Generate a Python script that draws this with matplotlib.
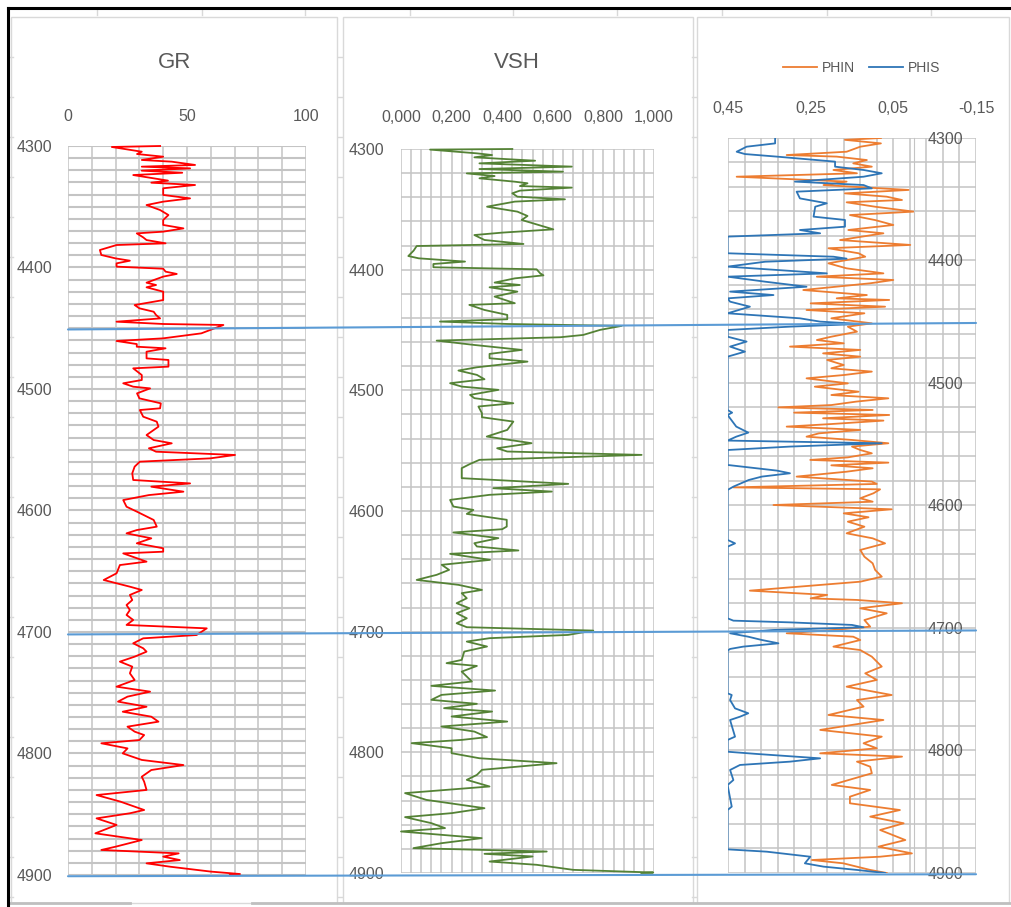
import numpy as np
import matplotlib.pyplot as plt
from matplotlib.lines import Line2D
from matplotlib.patches import ConnectionPatch, Rectangle
from matplotlib.ticker import FuncFormatter

# --- log data (depth in m) ---
gr_depth = [4300.0, 4300.8, 4304.7, 4306.6, 4308.8, 4311.5, 4312.9, 4315.6, 4317.0, 4318.4,
            4320.3, 4322.0, 4323.9, 4326.6, 4328.5, 4330.2, 4332.1, 4334.8, 4340.3, 4343.1,
            4345.8, 4348.6, 4352.7, 4356.8, 4360.9, 4365.0, 4367.8, 4370.5, 4371.9, 4375.2,
            4377.4, 4380.1, 4381.5, 4385.6, 4389.7, 4392.5, 4394.4, 4396.6, 4399.3, 4401.0,
            4403.4, 4405.3, 4407.5, 4412.5, 4414.4, 4416.3, 4419.9, 4426.8, 4430.9, 4433.6,
            4436.4, 4439.1, 4441.9, 4444.6, 4446.5, 4447.3, 4451.5, 4454.2, 4458.3, 4460.5,
            4463.0, 4465.2, 4466.5, 4469.3, 4474.8, 4476.1, 4481.6, 4483.0, 4488.5, 4492.6,
            4495.3, 4498.1, 4499.5, 4503.6, 4507.7, 4511.8, 4515.9, 4517.3, 4522.8, 4526.9,
            4531.0, 4535.1, 4537.9, 4542.0, 4544.7, 4548.8, 4551.6, 4554.3, 4557.1, 4559.8,
            4563.9, 4569.4, 4574.9, 4577.7, 4580.4, 4584.5, 4587.3, 4591.4, 4596.9, 4601.0,
            4607.8, 4613.3, 4616.1, 4618.8, 4622.9, 4627.0, 4631.1, 4633.9, 4635.3, 4642.1,
            4644.9, 4651.7, 4657.2, 4662.7, 4665.4, 4669.5, 4673.7, 4677.8, 4681.9, 4686.0,
            4690.1, 4694.2, 4697.0, 4702.5, 4705.2, 4709.3, 4713.4, 4716.2, 4720.3, 4724.4,
            4728.5, 4734.0, 4739.5, 4745.0, 4749.1, 4753.2, 4757.3, 4761.5, 4765.6, 4769.7,
            4773.8, 4777.9, 4782.0, 4784.8, 4788.9, 4791.6, 4795.8, 4799.9, 4805.3, 4809.5,
            4813.6, 4819.1, 4823.2, 4830.0, 4834.2, 4839.6, 4846.5, 4849.2, 4853.4, 4858.8,
            4865.7, 4871.2, 4876.7, 4879.4, 4882.2, 4884.9, 4887.7, 4890.4, 4893.2, 4897.2,
            4899.2, 4900.0]
gr_api = [38.7, 18.4, 31, 29, 40, 31, 43.6, 53.4, 31, 51.3,
          31, 48, 27.4, 36, 42, 35, 53.4, 40, 40, 51.3,
          40, 33, 38.7, 42.2, 40, 40, 48.5, 40, 28.9, 31.6,
          33, 41, 20.4, 13.4, 14, 20, 26, 20.4, 20.4, 40,
          41, 45.7, 40, 33, 37, 33, 40, 40, 28, 30,
          36, 37, 38.7, 20.4, 40, 65.3, 59.7, 56, 40, 20.4,
          28.9, 28.9, 41, 33, 33, 42.2, 42.2, 27.4, 31, 31,
          23.2, 27.4, 34.5, 29, 30, 39, 38.7, 30.2, 31.6, 37.3,
          38, 35, 33, 36, 43.6, 34, 37, 70.2, 59.7, 30.2,
          28, 27, 27.4, 51.3, 35, 48.5, 34, 23.2, 24.6, 29,
          36, 37.3, 28.9, 24.6, 35, 28.9, 40, 40, 23.2, 33,
          21.8, 20.4, 15, 26, 31, 26, 27, 24.6, 26, 24.6,
          27.4, 24.6, 58.3, 54, 31.6, 27.4, 31.6, 33, 28, 21.8,
          27, 26, 28, 20.4, 34.5, 25, 21, 33, 23, 35,
          38, 25, 28, 32, 30, 14, 25, 23, 31, 48.5,
          35, 31, 32, 33, 12, 22, 32, 26, 12, 20.4,
          11.5, 31, 20, 14, 46.5, 40, 47, 33, 43, 60,
          72.3, 68]

vsh_depth = [4300.0, 4300.5, 4303.6, 4305.0, 4306.9, 4309.7, 4311.9, 4314.6, 4316.6, 4318.8,
             4320.2, 4322.4, 4324.3, 4327.1, 4328.4, 4330.7, 4332.0, 4334.5, 4336.7, 4339.5,
             4341.7, 4343.6, 4347.8, 4351.9, 4355.5, 4358.8, 4366.6, 4369.3, 4371.3, 4375.4,
             4378.7, 4380.4, 4384.2, 4388.7, 4390.6, 4393.3, 4395.3, 4398.0, 4399.7, 4403.0,
             4404.7, 4407.2, 4410.7, 4412.7, 4414.6, 4418.2, 4422.3, 4427.8, 4429.2, 4433.4,
             4437.5, 4441.1, 4443.0, 4445.0, 4446.6, 4449.9, 4454.1, 4456.0, 4458.8, 4462.4,
             4466.5, 4469.8, 4473.4, 4476.2, 4480.9, 4483.6, 4487.2, 4490.8, 4494.1, 4496.9,
             4499.6, 4503.8, 4506.5, 4510.7, 4513.4, 4519.0, 4522.3, 4525.9, 4530.0, 4532.8,
             4538.3, 4543.8, 4548.0, 4550.7, 4553.5, 4557.6, 4561.0, 4564.5, 4572.8, 4577.5,
             4581.1, 4583.9, 4586.6, 4590.8, 4596.3, 4599.1, 4602.4, 4607.3, 4612.9, 4615.1,
             4617.8, 4622.5, 4626.7, 4629.4, 4632.7, 4635.5, 4640.5, 4644.6, 4648.8, 4652.9,
             4657.1, 4661.2, 4665.4, 4668.1, 4672.3, 4676.4, 4680.6, 4684.7, 4688.9, 4693.0,
             4696.3, 4699.1, 4702.7, 4705.4, 4708.2, 4712.3, 4716.5, 4723.4, 4726.1, 4728.4,
             4733.1, 4737.2, 4741.3, 4744.9, 4748.8, 4752.4, 4756.5, 4759.8, 4763.4, 4766.2,
             4770.3, 4774.5, 4778.6, 4782.8, 4787.4, 4789.7, 4792.4, 4796.6, 4800.7, 4804.9,
             4809.0, 4814.5, 4818.7, 4822.8, 4828.3, 4833.8, 4839.4, 4846.3, 4850.4, 4853.7,
             4858.7, 4862.8, 4865.6, 4871.1, 4875.3, 4879.4, 4882.2, 4884.1, 4886.3, 4890.5,
             4893.2, 4897.4, 4899.6, 4900.0]
vsh_frac = [0.44, 0.115, 0.30, 0.36, 0.29, 0.53, 0.31, 0.675, 0.31, 0.64,
            0.26, 0.37, 0.31, 0.45, 0.50, 0.47, 0.675, 0.47, 0.44, 0.46,
            0.648, 0.45, 0.34, 0.46, 0.50, 0.477, 0.602, 0.40, 0.29, 0.33,
            0.484, 0.062, 0.05, 0.029, 0.07, 0.253, 0.128, 0.128, 0.536, 0.55,
            0.563, 0.45, 0.37, 0.47, 0.35, 0.46, 0.37, 0.45, 0.27, 0.33,
            0.42, 0.42, 0.154, 0.42, 0.872, 0.787, 0.72, 0.63, 0.141, 0.29,
            0.477, 0.35, 0.35, 0.50, 0.30, 0.227, 0.30, 0.33, 0.194, 0.24,
            0.385, 0.273, 0.29, 0.444, 0.306, 0.32, 0.32, 0.444, 0.43, 0.42,
            0.339, 0.516, 0.38, 0.42, 0.951, 0.31, 0.273, 0.24, 0.24, 0.661,
            0.365, 0.596, 0.35, 0.194, 0.207, 0.286, 0.26, 0.418, 0.418, 0.40,
            0.207, 0.385, 0.29, 0.30, 0.464, 0.194, 0.352, 0.161, 0.19, 0.141,
            0.062, 0.227, 0.32, 0.24, 0.26, 0.22, 0.27, 0.22, 0.26, 0.22,
            0.26, 0.76, 0.66, 0.35, 0.26, 0.34, 0.25, 0.24, 0.18, 0.30,
            0.24, 0.26, 0.28, 0.12, 0.372, 0.16, 0.12, 0.30, 0.17, 0.36,
            0.20, 0.42, 0.16, 0.29, 0.34, 0.24, 0.042, 0.20, 0.20, 0.31,
            0.615, 0.32, 0.30, 0.26, 0.35, 0.016, 0.10, 0.33, 0.20, 0.016,
            0.12, 0.174, 0.0, 0.319, 0.16, 0.049, 0.576, 0.33, 0.52, 0.35,
            0.536, 0.681, 0.997, 0.95]

phin_depth = [4300.0, 4301.5, 4304.4, 4307.1, 4311.2, 4313.9, 4315.2, 4318.0, 4320.7, 4323.4,
              4326.1, 4328.8, 4331.6, 4335.6, 4338.4, 4342.4, 4345.2, 4347.9, 4350.6, 4352.5,
              4356.1, 4360.1, 4362.9, 4367.0, 4371.0, 4375.1, 4377.8, 4383.3, 4387.3, 4390.0,
              4394.1, 4396.9, 4399.6, 4402.3, 4406.4, 4410.5, 4413.2, 4415.9, 4418.6, 4424.1,
              4428.2, 4430.9, 4432.2, 4435.0, 4437.7, 4440.4, 4443.1, 4447.2, 4451.3, 4454.0,
              4458.1, 4462.2, 4464.9, 4467.6, 4470.3, 4473.0, 4475.8, 4478.5, 4481.2, 4485.3,
              4488.0, 4490.7, 4493.5, 4496.2, 4500.3, 4503.0, 4507.1, 4509.8, 4512.5, 4515.2,
              4518.0, 4519.9, 4522.0, 4524.2, 4526.1, 4528.8, 4530.7, 4533.5, 4535.6, 4538.3,
              4541.1, 4543.8, 4546.5, 4549.2, 4551.9, 4554.7, 4557.4, 4560.7, 4562.8, 4565.0,
              4567.2, 4569.6, 4572.4, 4576.4, 4580.5, 4582.4, 4585.2, 4586.8, 4590.0, 4594.1,
              4596.9, 4599.6, 4603.1, 4606.4, 4609.6, 4613.2, 4617.3, 4622.7, 4626.8, 4630.9,
              4636.3, 4641.8, 4647.2, 4652.6, 4658.1, 4662.2, 4669.5, 4673.0, 4675.8, 4677.1,
              4679.8, 4683.9, 4688.0, 4693.5, 4698.9, 4701.6, 4704.3, 4707.1, 4709.8, 4715.2,
              4718.0, 4723.4, 4731.5, 4737.0, 4742.4, 4747.9, 4754.7, 4758.8, 4764.2, 4771.0,
              4775.1, 4783.2, 4788.7, 4794.1, 4798.2, 4802.3, 4805.0, 4809.1, 4813.2, 4818.6,
              4828.1, 4832.2, 4837.7, 4843.1, 4848.6, 4854.0, 4859.4, 4864.9, 4873.1, 4878.5,
              4884.0, 4886.7, 4889.4, 4892.1, 4897.5, 4900.0]
phin_frac = [0.08, 0.167, 0.08, 0.13, 0.163, 0.308, 0.187, 0.114, 0.147, 0.102,
             0.195, 0.138, 0.429, 0.163, 0.219, 0.013, 0.167, 0.066, 0.029, 0.163,
             0.094, 0.001, 0.155, 0.094, 0.05, 0.159, 0.074, 0.179, 0.009, 0.207,
             0.134, 0.118, 0.163, 0.207, 0.163, 0.074, 0.235, 0.05, 0.106, 0.268,
             0.114, 0.187, 0.06, 0.25, 0.07, 0.26, 0.12, 0.20, 0.102, 0.16,
             0.138, 0.20, 0.235, 0.17, 0.30, 0.13, 0.22, 0.13, 0.21, 0.17,
             0.20, 0.102, 0.17, 0.26, 0.16, 0.24, 0.134, 0.20, 0.062, 0.14,
             0.20, 0.328, 0.10, 0.29, 0.06, 0.22, 0.074, 0.20, 0.308, 0.13,
             0.23, 0.26, 0.15, 0.062, 0.15, 0.13, 0.102, 0.16, 0.251, 0.062,
             0.20, 0.10, 0.163, 0.284, 0.102, 0.09, 0.437, 0.082, 0.098, 0.13,
             0.10, 0.34, 0.054, 0.17, 0.11, 0.16, 0.12, 0.163, 0.10, 0.07,
             0.13, 0.12, 0.10, 0.094, 0.078, 0.13, 0.397, 0.21, 0.25, 0.138,
             0.029, 0.13, 0.066, 0.12, 0.106, 0.195, 0.308, 0.147, 0.13, 0.195,
             0.13, 0.102, 0.078, 0.118, 0.09, 0.163, 0.054, 0.138, 0.122, 0.207,
             0.074, 0.227, 0.078, 0.122, 0.09, 0.227, 0.029, 0.138, 0.106, 0.102,
             0.199, 0.106, 0.155, 0.155, 0.034, 0.106, 0.025, 0.082, 0.021, 0.086,
             0.005, 0.082, 0.247, 0.171, 0.106, 0.066]

phis_depth = [4300.0, 4304.4, 4307.1, 4311.2, 4313.1, 4315.2, 4319.3, 4323.4, 4326.1, 4328.8,
              4331.6, 4335.6, 4338.4, 4341.1, 4343.8, 4349.3, 4353.3, 4356.1, 4364.2, 4366.9,
              4372.4, 4375.1, 4377.8, 4380.5, 4394.1, 4396.9, 4398.5, 4401.0, 4405.0, 4410.5,
              4413.2, 4417.3, 4421.4, 4425.4, 4428.2, 4430.9, 4433.6, 4437.7, 4443.1, 4447.2,
              4449.9, 4451.8, 4454.0, 4456.7, 4462.2, 4466.2, 4470.3, 4474.4, 4478.5, 4522.0,
              4524.2, 4526.1, 4535.6, 4540.5, 4543.8, 4547.0, 4549.2, 4551.9, 4554.7, 4566.9,
              4571.5, 4573.7, 4576.4, 4579.2, 4584.6, 4587.3, 4628.1, 4630.9, 4633.6, 4692.1,
              4694.0, 4695.4, 4697.5, 4699.4, 4701.6, 4704.3, 4707.1, 4709.8, 4712.5, 4715.2,
              4717.1, 4718.5, 4753.3, 4754.7, 4758.8, 4765.6, 4769.6, 4772.4, 4775.1, 4788.7,
              4791.4, 4801.0, 4802.8, 4806.4, 4809.1, 4811.8, 4815.9, 4824.1, 4828.2, 4845.8,
              4848.6, 4880.7, 4882.6, 4886.7, 4892.1, 4894.8, 4897.5, 4900.0]
phis_frac = [0.336, 0.336, 0.405, 0.429, 0.409, 0.332, 0.191, 0.191, 0.122, 0.078,
             0.122, 0.288, 0.122, 0.102, 0.284, 0.276, 0.211, 0.239, 0.243, 0.167,
             0.167, 0.276, 0.227, 0.451, 0.451, 0.195, 0.163, 0.36, 0.451, 0.211,
             0.451, 0.36, 0.26, 0.445, 0.34, 0.451, 0.445, 0.397, 0.451, 0.276,
             0.227, 0.13, 0.30, 0.451, 0.451, 0.405, 0.445, 0.409, 0.451, 0.451,
             0.44, 0.451, 0.43, 0.401, 0.43, 0.451, 0.078, 0.30, 0.451, 0.451,
             0.332, 0.30, 0.368, 0.40, 0.437, 0.451, 0.451, 0.433, 0.451, 0.451,
             0.437, 0.30, 0.15, 0.122, 0.34, 0.445, 0.401, 0.368, 0.328, 0.413,
             0.445, 0.451, 0.451, 0.441, 0.445, 0.433, 0.401, 0.421, 0.445, 0.433,
             0.451, 0.451, 0.381, 0.227, 0.30, 0.421, 0.445, 0.437, 0.451, 0.441,
             0.451, 0.451, 0.356, 0.251, 0.264, 0.219, 0.138, 0.07]

# depths picked as zone boundaries
zone_tops = [4451, 4702, 4901]

W, H = 1012, 907
TXT = '#595959'
GRID = '#c4c4c4'
FRAME = '#d9d9d9'

plt.rcParams['font.family'] = ['Liberation Sans', 'DejaVu Sans']


def box(x0, y0, x1, y1):
    return [x0 / W, 1 - y1 / H, (x1 - x0) / W, (y1 - y0) / H]


def fline(xs, ys, **kw):
    fig.add_artist(Line2D([x / W for x in xs], [1 - y / H for y in ys], **kw))


fig = plt.figure(figsize=(W / 100, H / 100), dpi=100)

# sheet cells peeking between the chart objects
for x in [97, 202, 305, 410, 513, 617, 722, 827, 931]:
    fline([x, x], [10, 15], color=FRAME, lw=1)
for x0 in [9, 338, 692]:
    for y in range(57, 900, 40):
        fline([x0, x0 + 4], [y, y], color=FRAME, lw=1)

# chart areas
for x0, x1 in [(11, 337), (343, 693), (697, 1009)]:
    fig.add_artist(Rectangle((x0 / W, 1 - 903 / H), (x1 - x0) / W, (903 - 17) / H,
                             transform=fig.transFigure, fill=False, ec=FRAME, lw=1))
fline([10, 130], [903, 903], color='#bfbfbf', lw=2)
fline([252, 1012], [903, 903], color='#bfbfbf', lw=2)

# sheet border
fline([8, 1012], [8, 8], color='black', lw=2.2)
fline([8, 8], [8, 907], color='black', lw=2.2)


def track(rect, xlim, major, minor, step_y, xpad, ypad, hgrid_lw=1.1):
    ax = fig.add_axes(rect)
    ax.set_xlim(*xlim)
    ax.set_ylim(4900, 4300)
    ax.xaxis.tick_top()
    ax.set_xticks(major)
    ax.set_xticks(minor, minor=True)
    ax.set_yticks(np.arange(4300, 4901, 100))
    ax.set_yticks(np.arange(4300, 4901, step_y), minor=True)
    ax.xaxis.grid(True, which='both', color=GRID, lw=1.1)
    ax.yaxis.grid(True, which='both', color=GRID, lw=hgrid_lw)
    ax.tick_params(which='both', length=0, colors=TXT, labelsize=11.5)
    ax.tick_params(axis='x', pad=xpad)
    ax.tick_params(axis='y', pad=ypad)
    for s in ax.spines.values():
        s.set_visible(False)
    ax.patch.set_alpha(0)
    return ax


# GR track
ax_gr = track(box(68, 146, 306, 875), (0, 100), [0, 50, 100], np.arange(0, 101, 10), 10,
              15.5, 11, hgrid_lw=1.5)
ax_gr.plot(gr_api, gr_depth, color='#ff0000', lw=1.3, clip_on=False)
fig.text(175 / W, 1 - 62 / H, 'GR', ha='center', va='center', fontsize=16, color=TXT)

# VSH track
ax_vsh = track(box(401, 149, 654, 873), (0, 1), np.arange(0, 1.01, 0.2), np.arange(0, 1.001, 0.04),
               20, 17, 12)
ax_vsh.xaxis.set_major_formatter(FuncFormatter(lambda v, p: f'{v:.3f}'.replace('.', ',')))
ax_vsh.plot(vsh_frac, vsh_depth, color='#548235', lw=1.3, clip_on=False)
fig.text(517 / W, 1 - 62 / H, 'VSH', ha='center', va='center', fontsize=16, color=TXT)

# porosity track, reversed scale with the depth axis crossing at zero
ax_phi = track(box(728, 138, 976, 873), (0.45, -0.15), [0.45, 0.25, 0.05, -0.15],
               [0.45 - 0.04 * k for k in range(16)], 20, 15.5, 10)
ax_phi.xaxis.set_major_formatter(FuncFormatter(lambda v, p: f'{v:.2f}'.replace('.', ',')))
ax_phi.yaxis.tick_right()
ax_phi.spines['right'].set_visible(True)
ax_phi.spines['right'].set_position(('data', 0))
ax_phi.spines['right'].set_color(GRID)
l_phin, = ax_phi.plot(phin_frac, phin_depth, color='#ed7d31', lw=1.3)
l_phis, = ax_phi.plot(phis_frac, phis_depth, color='#2e75b6', lw=1.3)
fig.legend([l_phin, l_phis], ['PHIN', 'PHIS'], ncol=2, loc='center',
           bbox_to_anchor=(862 / W, 1 - 68 / H), frameon=False, fontsize=10,
           handlelength=2.4, handletextpad=0.4, columnspacing=1.0, labelcolor=TXT)

# zone boundaries drawn across all tracks
for d in zone_tops:
    con = ConnectionPatch(xyA=(0, d), coordsA=ax_gr.transData,
                          xyB=(-0.15, d), coordsB=ax_phi.transData,
                          color='#5b9bd5', lw=1.5)
    fig.add_artist(con)

fig.savefig('out.png', dpi=100)
